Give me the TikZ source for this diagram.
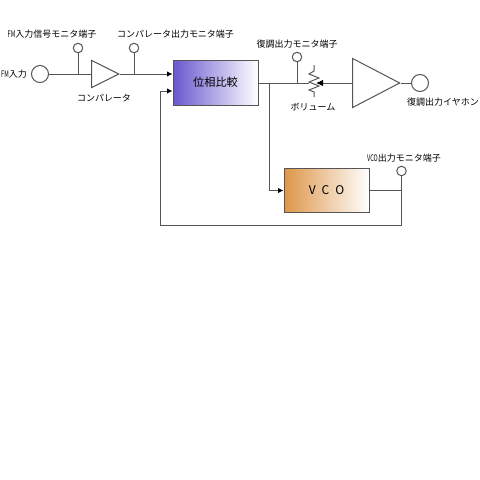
\documentclass[tikz,border=0pt]{standalone}
\usepackage{fontspec}
\usepackage{graphicx}
\setmainfont{Noto Sans CJK JP}
\usetikzlibrary{shapes.geometric, arrows.meta, positioning}
\definecolor{WireGray}  {RGB}{ 85,  85,  85}
\definecolor{PhaseBlue} {RGB}{104,  88, 205}
\definecolor{VcoOrange} {RGB}{222, 150,  72}
\newcommand{\narrowtxt}[1]{\scalebox{0.62}[1]{#1}}
\tikzset{
  wire/.style={draw=WireGray, line width=1pt},
  feed/.style={wire, -{Latex[length=5.5pt, width=5.5pt, black]}},
  terminal/.style={circle, draw=WireGray, line width=1pt, fill=white,
                   inner sep=0pt, minimum size=9.5pt},
  jack/.style={terminal, minimum size=17pt},
  amp/.style={isosceles triangle, isosceles triangle stretches, draw=WireGray,
              line width=1pt, fill=white, inner sep=0pt},
  block/.style={draw=WireGray, line width=1pt, right color=white,
                inner sep=0pt},
  caption/.style={inner sep=0pt, font=\fontsize{9}{9}\selectfont, text=black},
}
\begin{document}
\begin{tikzpicture}[x=1pt, y=-1pt]
  \useasboundingbox[fill=white] (0,0) rectangle (480,480);

  % input side
  \node[jack] (fmin) at (40,74) {};
  \node[amp, minimum width=27pt, minimum height=27pt] (comp) at (100,74) {};
  \node[terminal] (fmmon) at (78,48) {};
  \node[terminal] (compmon) at (134,48) {};
  \coordinate (fmjoin) at (78,74);
  \coordinate (compjoin) at (134,74);

  % blocks
  \node[block, left color=PhaseBlue, minimum width=85pt, minimum height=45pt,
        font=\fontsize{11.2}{11.2}\selectfont] (phase) at (215.5,82.5) {位相比較};
  \node[block, left color=VcoOrange, minimum width=85pt, minimum height=44pt,
        font=\fontsize{12}{12}\selectfont] (vco) at (326.5,190) {V\,\,\,C\,\,\,O};

  % volume and output
  \node[amp, minimum width=49pt, minimum height=47pt] (audio) at (367.5,83) {};
  \node[jack] (phones) at (420,83) {};
  \node[terminal] (demon) at (297,57) {};
  \node[terminal] (vcomon) at (401.5,171) {};
  \coordinate (split) at (269,83);
  \coordinate (demjoin) at (297,83);
  \coordinate (volin) at (309,83);
  \coordinate (wiper) at (316,83);
  \coordinate (vcojoin) at (401.5,190.5);
  \coordinate (corner) at (401.5,225);
  \coordinate (back) at (160,225);

  \draw[wire] (fmin) -- (comp.lower side);
  \draw[wire] (fmjoin) -- (fmmon);
  \draw[feed] (comp.apex) -- (phase.west |- compjoin);
  \draw[wire] (compjoin) -- (compmon);
  \draw[wire] (phase.east |- split) -- (volin);
  \draw[wire] (demjoin) -- (demon);
  \draw[feed] (split) |- (vco.west |- vcojoin);
  \draw[wire] (vco.east |- vcojoin) -- (vcojoin);
  \draw[wire] (vcomon) -- (corner) -- (back);
  \draw[feed] (back) |- (phase.west |- 0,91);
  \draw[wire] (audio.apex) -- (phones);
  % resistor
  \draw[wire] (314,65) -- (314,71) -- (309,74) -- (319,78) -- (309,82)
     -- (319,86) -- (309,90) -- (314,92) -- (314,97);
  \draw[feed, -{Latex[length=7pt, width=6.5pt, black]}] (audio.lower side) -- (wiper);

  % labels
  \node[caption] (fmlabel) at (14,74) {\narrowtxt{FM}入力};
  \node[caption] (fmmonlabel) at (52,34) {\narrowtxt{FM}入力信号モニタ端子};
  \node[caption] (compmonlabel) at (175.5,34) {コンパレータ出力モニタ端子};
  \node[caption] (complabel) at (104,98) {コンパレータ};
  \node[caption] (demonlabel) at (297,44) {復調出力モニタ端子};
  \node[caption] (vollabel) at (313,107) {ボリューム};
  \node[caption] (phoneslabel) at (443,102) {復調出力イヤホン};
  \node[caption] (vcomonlabel) at (404,158) {\narrowtxt{VCO}出力モニタ端子};
\end{tikzpicture}
\end{document}
